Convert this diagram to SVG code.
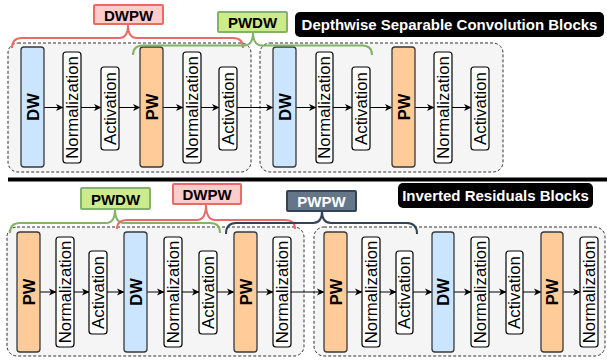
<svg xmlns="http://www.w3.org/2000/svg" width="607" height="360" viewBox="0 0 607 360">
<defs>
<marker id="ah" markerWidth="8" markerHeight="8" refX="7" refY="4" orient="auto" markerUnits="userSpaceOnUse">
<path d="M0,0.5 L7.5,4 L0,7.5 L2,4 z" fill="#000"/>
</marker>
<style>
.cont{fill:#f5f5f5;stroke:#333;stroke-width:1;stroke-dasharray:3 2}
.dw{fill:#cce5ff;stroke:#36393d;stroke-width:1.3}
.pw{fill:#ffcc99;stroke:#36393d;stroke-width:1.3}
.op{fill:#fff;stroke:#000;stroke-width:1.2}
.lbl{font-family:"Liberation Sans",Arial,sans-serif;font-size:16.8px;text-anchor:middle;dominant-baseline:central;fill:#000}
.b{font-weight:bold;font-size:16.5px}
.cap{font-family:"Liberation Sans",Arial,sans-serif;font-size:15px;font-weight:bold;text-anchor:middle;dominant-baseline:central}
.title{fill:#000}
.tt{fill:#fff}
.conn{stroke:#000;stroke-width:1;fill:none;marker-end:url(#ah)}
.br{fill:none;stroke-width:2}
</style>
</defs>
<rect x="0" y="0" width="607" height="360" fill="#fff"/>

<!-- separator -->
<rect id="separator" x="8" y="177.5" width="599" height="4" fill="#000"/>

<!-- titles -->
<g id="title-top"><rect class="title" x="295" y="12" width="309" height="25" rx="5"/><text class="cap tt" x="449.5" y="24.5">Depthwise Separable Convolution Blocks</text></g>
<g id="title-bottom"><rect class="title" x="398" y="183" width="195" height="25" rx="5"/><text class="cap tt" x="495.5" y="195.5">Inverted Residuals Blocks</text></g>

<!-- containers -->
<g id="block-top-1"><rect class="cont" x="8" y="43" width="243" height="129" rx="10"/></g>
<g id="block-top-2"><rect class="cont" x="260" y="43" width="243" height="129" rx="10"/></g>
<g id="block-bot-1"><rect class="cont" x="7" y="227" width="297" height="129" rx="10"/></g>
<g id="block-bot-2"><rect class="cont" x="314" y="227" width="291" height="129" rx="10"/></g>

<!-- connectors -->
<g id="connectors">
<line class="conn" x1="44" y1="107.5" x2="63" y2="107.5"/>
<line class="conn" x1="81" y1="107.5" x2="101" y2="107.5"/>
<line class="conn" x1="119" y1="107.5" x2="140" y2="107.5"/>
<line class="conn" x1="163" y1="107.5" x2="183" y2="107.5"/>
<line class="conn" x1="201" y1="107.5" x2="219" y2="107.5"/>
<line class="conn" x1="237" y1="107.5" x2="273" y2="107.5"/>
<line class="conn" x1="296" y1="107.5" x2="316" y2="107.5"/>
<line class="conn" x1="333" y1="107.5" x2="352" y2="107.5"/>
<line class="conn" x1="370" y1="107.5" x2="392" y2="107.5"/>
<line class="conn" x1="415" y1="107.5" x2="434" y2="107.5"/>
<line class="conn" x1="452" y1="107.5" x2="471" y2="107.5"/>

<line class="conn" x1="40" y1="292" x2="56" y2="292"/>
<line class="conn" x1="74" y1="292" x2="89" y2="292"/>
<line class="conn" x1="107" y1="292" x2="124" y2="292"/>
<line class="conn" x1="147" y1="292" x2="164" y2="292"/>
<line class="conn" x1="182" y1="292" x2="199" y2="292"/>
<line class="conn" x1="217" y1="292" x2="234" y2="292"/>
<line class="conn" x1="257" y1="292" x2="273" y2="292"/>
<line class="conn" x1="291" y1="292" x2="324" y2="292"/>
<line class="conn" x1="347" y1="292" x2="362" y2="292"/>
<line class="conn" x1="380" y1="292" x2="396" y2="292"/>
<line class="conn" x1="413" y1="292" x2="432" y2="292"/>
<line class="conn" x1="454" y1="292" x2="471" y2="292"/>
<line class="conn" x1="489" y1="292" x2="506" y2="292"/>
<line class="conn" x1="523" y1="292" x2="541" y2="292"/>
<line class="conn" x1="563" y1="292" x2="580" y2="292"/>
</g>

<!-- top row nodes -->
<g id="t-dw1"><rect class="dw" x="21" y="47" width="23" height="120" rx="3"/><text class="lbl b" transform="translate(32.5,107) rotate(-90)">DW</text></g>
<g id="t-n1"><rect class="op" x="63" y="52" width="18" height="111" rx="3"/><text class="lbl" transform="translate(72,107.5) rotate(-90)">Normalization</text></g>
<g id="t-a1"><rect class="op" x="101" y="67" width="18" height="83" rx="3"/><text class="lbl" transform="translate(110,108.5) rotate(-90)">Activation</text></g>
<g id="t-pw1"><rect class="pw" x="140" y="47" width="23" height="120" rx="3"/><text class="lbl b" transform="translate(151.5,107) rotate(-90)">PW</text></g>
<g id="t-n2"><rect class="op" x="183" y="52" width="18" height="111" rx="3"/><text class="lbl" transform="translate(192,107.5) rotate(-90)">Normalization</text></g>
<g id="t-a2"><rect class="op" x="219" y="67" width="18" height="83" rx="3"/><text class="lbl" transform="translate(228,108.5) rotate(-90)">Activation</text></g>

<g id="t-dw2"><rect class="dw" x="273" y="47" width="23" height="120" rx="3"/><text class="lbl b" transform="translate(284.5,107) rotate(-90)">DW</text></g>
<g id="t-n3"><rect class="op" x="316" y="52" width="17" height="111" rx="3"/><text class="lbl" transform="translate(324.5,107.5) rotate(-90)">Normalization</text></g>
<g id="t-a3"><rect class="op" x="352" y="67" width="18" height="83" rx="3"/><text class="lbl" transform="translate(361,108.5) rotate(-90)">Activation</text></g>
<g id="t-pw2"><rect class="pw" x="392" y="47" width="23" height="120" rx="3"/><text class="lbl b" transform="translate(403.5,107) rotate(-90)">PW</text></g>
<g id="t-n4"><rect class="op" x="434" y="52" width="18" height="111" rx="3"/><text class="lbl" transform="translate(443,107.5) rotate(-90)">Normalization</text></g>
<g id="t-a4"><rect class="op" x="471" y="67" width="18" height="83" rx="3"/><text class="lbl" transform="translate(480,108.5) rotate(-90)">Activation</text></g>

<!-- bottom row nodes -->
<g id="b-pw1"><rect class="pw" x="17" y="232" width="23" height="120" rx="3"/><text class="lbl b" transform="translate(28.5,292) rotate(-90)">PW</text></g>
<g id="b-n1"><rect class="op" x="56" y="237" width="18" height="110" rx="3"/><text class="lbl" transform="translate(65,292) rotate(-90)">Normalization</text></g>
<g id="b-a1"><rect class="op" x="89" y="251" width="18" height="83" rx="3"/><text class="lbl" transform="translate(98,292.5) rotate(-90)">Activation</text></g>
<g id="b-dw1"><rect class="dw" x="124" y="232" width="23" height="120" rx="3"/><text class="lbl b" transform="translate(135.5,292) rotate(-90)">DW</text></g>
<g id="b-n2"><rect class="op" x="164" y="237" width="18" height="110" rx="3"/><text class="lbl" transform="translate(173,292) rotate(-90)">Normalization</text></g>
<g id="b-a2"><rect class="op" x="199" y="251" width="18" height="83" rx="3"/><text class="lbl" transform="translate(208,292.5) rotate(-90)">Activation</text></g>
<g id="b-pw2"><rect class="pw" x="234" y="232" width="23" height="120" rx="3"/><text class="lbl b" transform="translate(245.5,292) rotate(-90)">PW</text></g>
<g id="b-n3"><rect class="op" x="273" y="237" width="18" height="110" rx="3"/><text class="lbl" transform="translate(282,292) rotate(-90)">Normalization</text></g>

<g id="b-pw3"><rect class="pw" x="324" y="232" width="23" height="120" rx="3"/><text class="lbl b" transform="translate(335.5,292) rotate(-90)">PW</text></g>
<g id="b-n4"><rect class="op" x="362" y="237" width="18" height="110" rx="3"/><text class="lbl" transform="translate(371,292) rotate(-90)">Normalization</text></g>
<g id="b-a3"><rect class="op" x="396" y="251" width="17" height="83" rx="3"/><text class="lbl" transform="translate(404.5,292.5) rotate(-90)">Activation</text></g>
<g id="b-dw2"><rect class="dw" x="432" y="232" width="22" height="120" rx="3"/><text class="lbl b" transform="translate(443,292) rotate(-90)">DW</text></g>
<g id="b-n5"><rect class="op" x="471" y="237" width="18" height="110" rx="3"/><text class="lbl" transform="translate(480,292) rotate(-90)">Normalization</text></g>
<g id="b-a4"><rect class="op" x="506" y="251" width="17" height="83" rx="3"/><text class="lbl" transform="translate(514.5,292.5) rotate(-90)">Activation</text></g>
<g id="b-pw4"><rect class="pw" x="541" y="232" width="22" height="120" rx="3"/><text class="lbl b" transform="translate(552,292) rotate(-90)">PW</text></g>
<g id="b-n6"><rect class="op" x="580" y="237" width="18" height="110" rx="3"/><text class="lbl" transform="translate(589,292) rotate(-90)">Normalization</text></g>

<!-- braces + callouts -->
<g id="brace-top-dwpw">
<path class="br" stroke="#ea6b66" d="M12,48 Q12,38 22,38 L119,38 Q128,38 128,25 Q128,38 137,38 L233,38 Q243,38 243,48"/>
<rect x="94" y="5" width="69" height="19" rx="1" fill="#ffcccc" stroke="#ea6b66" stroke-width="2"/>
<text class="cap" x="128.5" y="15">DWPW</text>
</g>
<g id="brace-top-pwdw">
<path class="br" stroke="#82b366" d="M133,55 Q133,45.5 143,45.5 L244,45.5 Q253,45.5 253,32 Q253,45.5 262,45.5 L362,45.5 Q372,45.5 372,55"/>
<rect x="218" y="12" width="69" height="20" rx="1" fill="#cdeb8b" stroke="#82b366" stroke-width="2"/>
<text class="cap" x="252.5" y="22.5">PWDW</text>
</g>
<g id="brace-bot-pwdw">
<path class="br" stroke="#82b366" d="M10,233 Q10,223 20,223 L106,223 Q115,223 115,209 Q115,223 124,223 L210,223 Q220,223 220,233"/>
<rect x="81" y="188" width="69" height="21" rx="1" fill="#cdeb8b" stroke="#82b366" stroke-width="2"/>
<text class="cap" x="115.5" y="199">PWDW</text>
</g>
<g id="brace-bot-dwpw">
<path class="br" stroke="#ea6b66" d="M117,229 Q117,220 127,220 L197,220 Q206,220 206,204 Q206,220 215,220 L285,220 Q295,220 295,229"/>
<rect x="173" y="184" width="68" height="20" rx="1" fill="#ffcccc" stroke="#ea6b66" stroke-width="2"/>
<text class="cap" x="207" y="194.5">DWPW</text>
</g>
<g id="brace-bot-pwpw">
<path class="br" stroke="#314354" d="M226,234 Q226,223 236,223 L313,223 Q322,223 322,211 Q322,223 331,223 L407,223 Q417,223 417,234"/>
<rect x="287" y="191" width="69" height="20" rx="1" fill="#647687" stroke="#314354" stroke-width="2"/>
<text class="cap" x="321.5" y="201.5" fill="#fff">PWPW</text>
</g>
</svg>
